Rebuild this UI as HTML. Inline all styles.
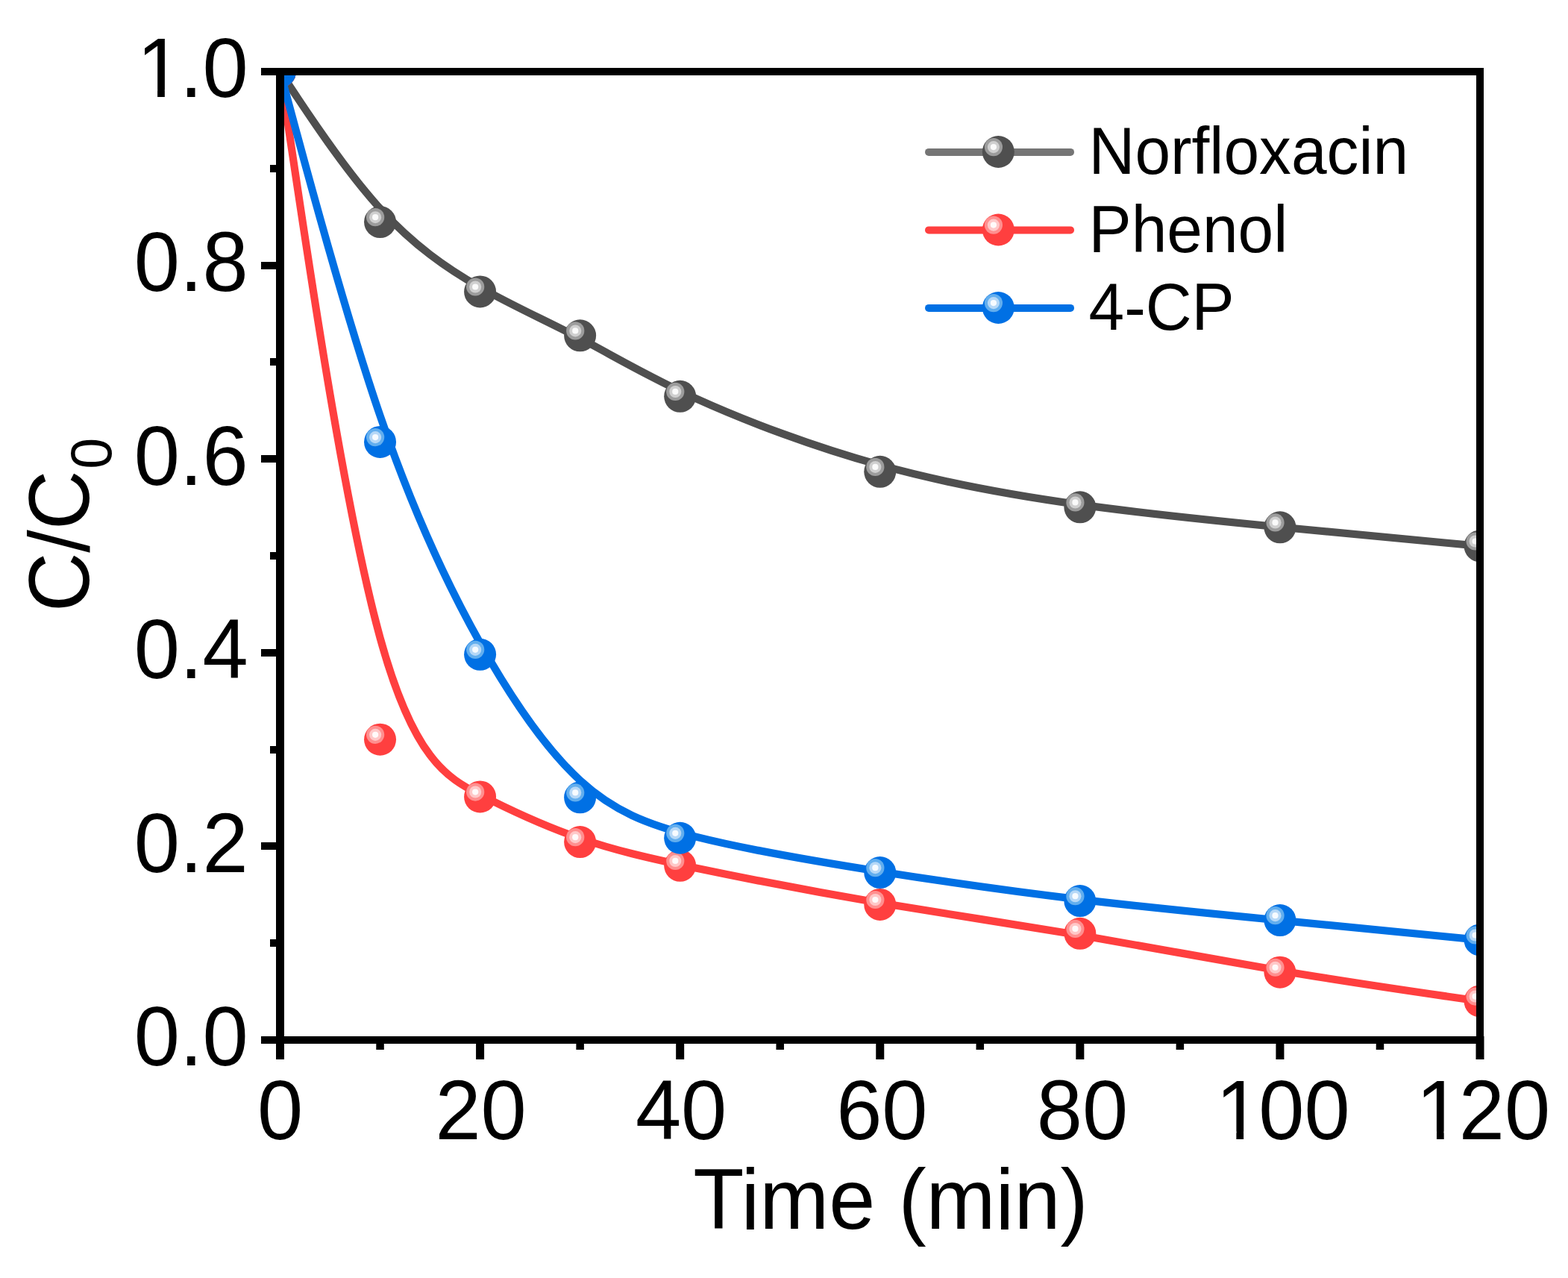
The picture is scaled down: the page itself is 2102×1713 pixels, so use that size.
<!DOCTYPE html><html><head><meta charset="utf-8"><style>html,body{margin:0;padding:0;background:#fff;overflow:hidden}svg{display:block}text{font-family:"Liberation Sans",Arial,sans-serif;fill:#000}</style></head><body>
<svg width="2102" height="1713" viewBox="0 0 2102 1713">
<rect width="2102" height="1713" fill="#fff"/>
<defs><clipPath id="c"><rect x="375.5" y="96.0" width="1608.5" height="1298.0"/></clipPath></defs>
<g clip-path="url(#c)">
<path d="M375.50,96.00 C375.50,96.00 375.50,96.00 397.84,129.60 C420.18,163.19 464.86,230.39 509.54,279.54 C554.22,328.69 598.90,359.80 643.58,385.17 C688.26,410.55 732.94,430.19 777.62,453.60 C822.31,477.01 866.99,504.18 934.01,534.59 C1001.03,565.01 1090.39,598.67 1179.75,623.42 C1269.11,648.17 1358.47,664.00 1447.83,676.42 C1537.19,688.84 1626.56,697.84 1715.92,706.51 C1805.28,715.19 1894.64,723.54 1939.32,727.71 C1984.00,731.89 1984.00,731.89 1984.00,731.89" fill="none" stroke="#4f4f4f" stroke-width="10.2" stroke-linejoin="round" stroke-linecap="round"/>
<circle cx="375.50" cy="96.00" r="21.5" fill="#4f4f4f"/><circle cx="369.10" cy="89.60" r="12.1" fill="#9c9c9c"/><circle cx="369.10" cy="89.60" r="8.05" fill="#cfcfcf"/><circle cx="369.10" cy="89.60" r="4.1" fill="#fafafa"/>
<circle cx="509.54" cy="297.58" r="21.5" fill="#4f4f4f"/><circle cx="503.14" cy="291.18" r="12.1" fill="#9c9c9c"/><circle cx="503.14" cy="291.18" r="8.05" fill="#cfcfcf"/><circle cx="503.14" cy="291.18" r="4.1" fill="#fafafa"/>
<circle cx="643.58" cy="390.91" r="21.5" fill="#4f4f4f"/><circle cx="637.18" cy="384.51" r="12.1" fill="#9c9c9c"/><circle cx="637.18" cy="384.51" r="8.05" fill="#cfcfcf"/><circle cx="637.18" cy="384.51" r="4.1" fill="#fafafa"/>
<circle cx="777.62" cy="449.83" r="21.5" fill="#4f4f4f"/><circle cx="771.23" cy="443.43" r="12.1" fill="#9c9c9c"/><circle cx="771.23" cy="443.43" r="8.05" fill="#cfcfcf"/><circle cx="771.23" cy="443.43" r="4.1" fill="#fafafa"/>
<circle cx="911.67" cy="531.35" r="21.5" fill="#4f4f4f"/><circle cx="905.27" cy="524.95" r="12.1" fill="#9c9c9c"/><circle cx="905.27" cy="524.95" r="8.05" fill="#cfcfcf"/><circle cx="905.27" cy="524.95" r="4.1" fill="#fafafa"/>
<circle cx="1179.75" cy="632.33" r="21.5" fill="#4f4f4f"/><circle cx="1173.35" cy="625.93" r="12.1" fill="#9c9c9c"/><circle cx="1173.35" cy="625.93" r="8.05" fill="#cfcfcf"/><circle cx="1173.35" cy="625.93" r="4.1" fill="#fafafa"/>
<circle cx="1447.83" cy="679.84" r="21.5" fill="#4f4f4f"/><circle cx="1441.43" cy="673.44" r="12.1" fill="#9c9c9c"/><circle cx="1441.43" cy="673.44" r="8.05" fill="#cfcfcf"/><circle cx="1441.43" cy="673.44" r="4.1" fill="#fafafa"/>
<circle cx="1715.92" cy="706.84" r="21.5" fill="#4f4f4f"/><circle cx="1709.52" cy="700.44" r="12.1" fill="#9c9c9c"/><circle cx="1709.52" cy="700.44" r="8.05" fill="#cfcfcf"/><circle cx="1709.52" cy="700.44" r="4.1" fill="#fafafa"/>
<circle cx="1984.00" cy="731.89" r="21.5" fill="#4f4f4f"/><circle cx="1977.60" cy="725.49" r="12.1" fill="#9c9c9c"/><circle cx="1977.60" cy="725.49" r="8.05" fill="#cfcfcf"/><circle cx="1977.60" cy="725.49" r="4.1" fill="#fafafa"/>
<path d="M375.50,96.00 C375.50,96.00 375.50,96.00 397.84,245.21 C420.18,394.41 464.86,692.82 509.54,854.81 C554.22,1016.80 598.90,1042.37 643.58,1065.26 C688.26,1088.15 732.94,1108.35 777.62,1123.76 C822.31,1139.16 866.99,1149.76 934.01,1163.73 C1001.03,1177.71 1090.39,1195.06 1179.75,1210.22 C1269.11,1225.39 1358.47,1238.37 1447.83,1253.49 C1537.19,1268.61 1626.56,1285.88 1715.92,1300.98 C1805.28,1316.08 1894.64,1329.01 1939.32,1335.48 C1984.00,1341.95 1984.00,1341.95 1984.00,1341.95" fill="none" stroke="#ff3f3f" stroke-width="10.2" stroke-linejoin="round" stroke-linecap="round"/>
<circle cx="375.50" cy="96.00" r="21.5" fill="#ff3f3f"/><circle cx="369.10" cy="89.60" r="12.1" fill="#ff8f8f"/><circle cx="369.10" cy="89.60" r="8.05" fill="#ffc8c8"/><circle cx="369.10" cy="89.60" r="4.1" fill="#fffafa"/>
<circle cx="509.54" cy="991.23" r="21.5" fill="#ff3f3f"/><circle cx="503.14" cy="984.83" r="12.1" fill="#ff8f8f"/><circle cx="503.14" cy="984.83" r="8.05" fill="#ffc8c8"/><circle cx="503.14" cy="984.83" r="4.1" fill="#fffafa"/>
<circle cx="643.58" cy="1067.94" r="21.5" fill="#ff3f3f"/><circle cx="637.18" cy="1061.54" r="12.1" fill="#ff8f8f"/><circle cx="637.18" cy="1061.54" r="8.05" fill="#ffc8c8"/><circle cx="637.18" cy="1061.54" r="4.1" fill="#fffafa"/>
<circle cx="777.62" cy="1128.56" r="21.5" fill="#ff3f3f"/><circle cx="771.23" cy="1122.16" r="12.1" fill="#ff8f8f"/><circle cx="771.23" cy="1122.16" r="8.05" fill="#ffc8c8"/><circle cx="771.23" cy="1122.16" r="4.1" fill="#fffafa"/>
<circle cx="911.67" cy="1160.36" r="21.5" fill="#ff3f3f"/><circle cx="905.27" cy="1153.96" r="12.1" fill="#ff8f8f"/><circle cx="905.27" cy="1153.96" r="8.05" fill="#ffc8c8"/><circle cx="905.27" cy="1153.96" r="4.1" fill="#fffafa"/>
<circle cx="1179.75" cy="1212.41" r="21.5" fill="#ff3f3f"/><circle cx="1173.35" cy="1206.01" r="12.1" fill="#ff8f8f"/><circle cx="1173.35" cy="1206.01" r="8.05" fill="#ffc8c8"/><circle cx="1173.35" cy="1206.01" r="4.1" fill="#fffafa"/>
<circle cx="1447.83" cy="1251.35" r="21.5" fill="#ff3f3f"/><circle cx="1441.43" cy="1244.95" r="12.1" fill="#ff8f8f"/><circle cx="1441.43" cy="1244.95" r="8.05" fill="#ffc8c8"/><circle cx="1441.43" cy="1244.95" r="4.1" fill="#fffafa"/>
<circle cx="1715.92" cy="1303.14" r="21.5" fill="#ff3f3f"/><circle cx="1709.52" cy="1296.74" r="12.1" fill="#ff8f8f"/><circle cx="1709.52" cy="1296.74" r="8.05" fill="#ffc8c8"/><circle cx="1709.52" cy="1296.74" r="4.1" fill="#fffafa"/>
<circle cx="1984.00" cy="1341.95" r="21.5" fill="#ff3f3f"/><circle cx="1977.60" cy="1335.55" r="12.1" fill="#ff8f8f"/><circle cx="1977.60" cy="1335.55" r="8.05" fill="#ffc8c8"/><circle cx="1977.60" cy="1335.55" r="4.1" fill="#fffafa"/>
<path d="M375.50,96.00 C375.50,96.00 375.50,96.00 397.84,178.75 C420.18,261.49 464.86,426.99 509.54,557.20 C554.22,687.41 598.90,782.34 643.58,861.73 C688.26,941.13 732.94,1004.99 777.62,1045.98 C822.31,1086.98 866.99,1105.11 934.01,1121.90 C1001.03,1138.68 1090.39,1154.13 1179.75,1168.19 C1269.11,1182.25 1358.47,1194.93 1447.83,1205.60 C1537.19,1216.26 1626.56,1224.91 1715.92,1233.63 C1805.28,1242.35 1894.64,1251.13 1939.32,1255.53 C1984.00,1259.92 1984.00,1259.92 1984.00,1259.92" fill="none" stroke="#0070e4" stroke-width="10.2" stroke-linejoin="round" stroke-linecap="round"/>
<circle cx="375.50" cy="96.00" r="21.5" fill="#0070e4"/><circle cx="369.10" cy="89.60" r="12.1" fill="#62aeee"/><circle cx="369.10" cy="89.60" r="8.05" fill="#b6d8f7"/><circle cx="369.10" cy="89.60" r="4.1" fill="#f7fbff"/>
<circle cx="509.54" cy="592.48" r="21.5" fill="#0070e4"/><circle cx="503.14" cy="586.08" r="12.1" fill="#62aeee"/><circle cx="503.14" cy="586.08" r="8.05" fill="#b6d8f7"/><circle cx="503.14" cy="586.08" r="4.1" fill="#f7fbff"/>
<circle cx="643.58" cy="877.27" r="21.5" fill="#0070e4"/><circle cx="637.18" cy="870.87" r="12.1" fill="#62aeee"/><circle cx="637.18" cy="870.87" r="8.05" fill="#b6d8f7"/><circle cx="637.18" cy="870.87" r="4.1" fill="#f7fbff"/>
<circle cx="777.62" cy="1068.85" r="21.5" fill="#0070e4"/><circle cx="771.23" cy="1062.45" r="12.1" fill="#62aeee"/><circle cx="771.23" cy="1062.45" r="8.05" fill="#b6d8f7"/><circle cx="771.23" cy="1062.45" r="4.1" fill="#f7fbff"/>
<circle cx="911.67" cy="1123.24" r="21.5" fill="#0070e4"/><circle cx="905.27" cy="1116.84" r="12.1" fill="#62aeee"/><circle cx="905.27" cy="1116.84" r="8.05" fill="#b6d8f7"/><circle cx="905.27" cy="1116.84" r="4.1" fill="#f7fbff"/>
<circle cx="1179.75" cy="1169.58" r="21.5" fill="#0070e4"/><circle cx="1173.35" cy="1163.18" r="12.1" fill="#62aeee"/><circle cx="1173.35" cy="1163.18" r="8.05" fill="#b6d8f7"/><circle cx="1173.35" cy="1163.18" r="4.1" fill="#f7fbff"/>
<circle cx="1447.83" cy="1207.61" r="21.5" fill="#0070e4"/><circle cx="1441.43" cy="1201.21" r="12.1" fill="#62aeee"/><circle cx="1441.43" cy="1201.21" r="8.05" fill="#b6d8f7"/><circle cx="1441.43" cy="1201.21" r="4.1" fill="#f7fbff"/>
<circle cx="1715.92" cy="1233.57" r="21.5" fill="#0070e4"/><circle cx="1709.52" cy="1227.17" r="12.1" fill="#62aeee"/><circle cx="1709.52" cy="1227.17" r="8.05" fill="#b6d8f7"/><circle cx="1709.52" cy="1227.17" r="4.1" fill="#f7fbff"/>
<circle cx="1984.00" cy="1259.92" r="21.5" fill="#0070e4"/><circle cx="1977.60" cy="1253.52" r="12.1" fill="#62aeee"/><circle cx="1977.60" cy="1253.52" r="8.05" fill="#b6d8f7"/><circle cx="1977.60" cy="1253.52" r="4.1" fill="#f7fbff"/>
</g>
<g fill="#000">
<rect x="370" y="91" width="11" height="1308"/>
<rect x="1979" y="91" width="10" height="1308"/>
<rect x="370" y="91" width="1619" height="10"/>
<rect x="370" y="1389" width="1619" height="10"/>
<rect x="370.00" y="1389" width="11" height="31"/>
<rect x="504.29" y="1389" width="10.5" height="18"/>
<rect x="638.08" y="1389" width="11" height="31"/>
<rect x="772.38" y="1389" width="10.5" height="18"/>
<rect x="906.17" y="1389" width="11" height="31"/>
<rect x="1040.46" y="1389" width="10.5" height="18"/>
<rect x="1174.25" y="1389" width="11" height="31"/>
<rect x="1308.54" y="1389" width="10.5" height="18"/>
<rect x="1442.33" y="1389" width="11" height="31"/>
<rect x="1576.62" y="1389" width="10.5" height="18"/>
<rect x="1710.42" y="1389" width="11" height="31"/>
<rect x="1844.71" y="1389" width="10.5" height="18"/>
<rect x="1978.50" y="1389" width="11" height="31"/>
<rect x="350" y="1389" width="31" height="10"/>
<rect x="362" y="1259" width="19" height="10"/>
<rect x="350" y="1129" width="31" height="10"/>
<rect x="362" y="1000" width="19" height="10"/>
<rect x="350" y="870" width="31" height="10"/>
<rect x="362" y="740" width="19" height="10"/>
<rect x="350" y="610" width="31" height="10"/>
<rect x="362" y="480" width="19" height="10"/>
<rect x="350" y="351" width="31" height="10"/>
<rect x="362" y="221" width="19" height="10"/>
<rect x="350" y="91" width="31" height="10"/>
</g>
<text x="0" y="0" font-size="110" transform="translate(179.78,1428.30) scale(1,1.03)">0.0</text>
<text x="0" y="0" font-size="110" transform="translate(179.78,1168.70) scale(1,1.03)">0.2</text>
<text x="0" y="0" font-size="110" transform="translate(179.78,909.10) scale(1,1.03)">0.4</text>
<text x="0" y="0" font-size="110" transform="translate(179.78,649.50) scale(1,1.03)">0.6</text>
<text x="0" y="0" font-size="110" transform="translate(179.78,389.90) scale(1,1.03)">0.8</text>
<text x="0" y="0" font-size="110" transform="translate(179.78,130.30) scale(1,1.03)"><tspan dx="3.65">1</tspan><tspan dx="-3.65">.</tspan>0</text><rect x="190.42" y="120.34" width="20.68" height="10.96" fill="#fff"/><rect x="220.82" y="120.34" width="19.82" height="10.96" fill="#fff"/>
<text x="0" y="0" font-size="110" transform="translate(344.91,1526.50) scale(1,1.03)">0</text>
<text x="0" y="0" font-size="110" transform="translate(583.41,1526.50) scale(1,1.03)">20</text>
<text x="0" y="0" font-size="110" transform="translate(851.89,1526.50) scale(1,1.03)">40</text>
<text x="0" y="0" font-size="110" transform="translate(1121.17,1526.50) scale(1,1.03)">60</text>
<text x="0" y="0" font-size="110" transform="translate(1389.76,1526.50) scale(1,1.03)">80</text>
<text x="0" y="0" font-size="110" transform="translate(1626.05,1526.50) scale(1,1.03)"><tspan dx="3.65">1</tspan><tspan dx="-3.65">0</tspan>0</text><rect x="1636.68" y="1516.54" width="20.68" height="10.96" fill="#fff"/><rect x="1667.08" y="1516.54" width="19.82" height="10.96" fill="#fff"/>
<text x="0" y="0" font-size="110" transform="translate(1894.63,1526.50) scale(1,1.03)"><tspan dx="3.65">1</tspan><tspan dx="-3.65">2</tspan>0</text><rect x="1905.27" y="1516.54" width="20.68" height="10.96" fill="#fff"/><rect x="1935.67" y="1516.54" width="19.82" height="10.96" fill="#fff"/>
<text x="0" y="0" font-size="110" transform="translate(929.3,1647) scale(1.0154,1.0405)">Time (min)</text>
<text x="0" y="0" font-size="110" transform="translate(118.7,820.1) rotate(-90) scale(1,1.0405)">C/C<tspan font-size="75.4" dx="2.0" dy="29.5">0</tspan></text>
<line x1="1245" y1="203.9" x2="1435" y2="203.9" stroke="#757575" stroke-width="10" stroke-linecap="round"/>
<circle cx="1338.30" cy="203.50" r="21.5" fill="#4f4f4f"/><circle cx="1331.90" cy="197.10" r="12.1" fill="#9c9c9c"/><circle cx="1331.90" cy="197.10" r="8.05" fill="#cfcfcf"/><circle cx="1331.90" cy="197.10" r="4.1" fill="#fafafa"/>
<text x="0" y="0" font-size="85.7" text-anchor="start" transform="translate(1459.50,233.00) scale(1,1.0405)">Norfloxacin</text>
<line x1="1245" y1="308.4" x2="1435" y2="308.4" stroke="#ff3f3f" stroke-width="10" stroke-linecap="round"/>
<circle cx="1338.30" cy="308.00" r="21.5" fill="#ff3f3f"/><circle cx="1331.90" cy="301.60" r="12.1" fill="#ff8f8f"/><circle cx="1331.90" cy="301.60" r="8.05" fill="#ffc8c8"/><circle cx="1331.90" cy="301.60" r="4.1" fill="#fffafa"/>
<text x="0" y="0" font-size="85.7" text-anchor="start" transform="translate(1459.50,338.00) scale(1,1.0405)">Phenol</text>
<line x1="1245" y1="412.9" x2="1435" y2="412.9" stroke="#0070e4" stroke-width="10" stroke-linecap="round"/>
<circle cx="1338.30" cy="412.50" r="21.5" fill="#0070e4"/><circle cx="1331.90" cy="406.10" r="12.1" fill="#62aeee"/><circle cx="1331.90" cy="406.10" r="8.05" fill="#b6d8f7"/><circle cx="1331.90" cy="406.10" r="4.1" fill="#f7fbff"/>
<text x="0" y="0" font-size="85.7" text-anchor="start" transform="translate(1459.50,442.30) scale(1,1.0405)">4-CP</text>
</svg></body></html>
